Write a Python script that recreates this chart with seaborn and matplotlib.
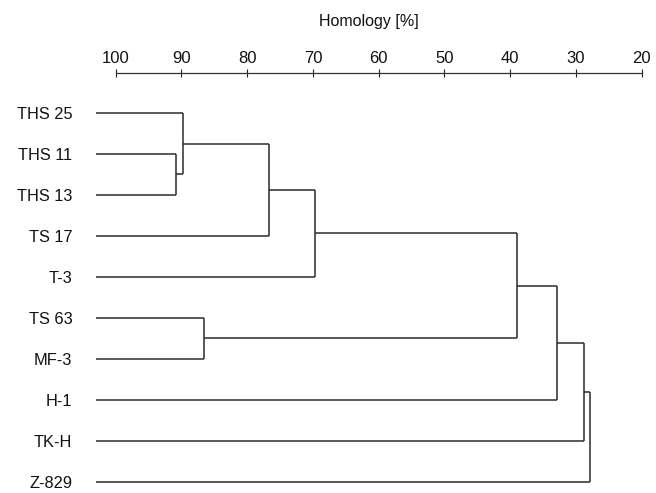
import matplotlib
matplotlib.use("Agg")
import matplotlib.pyplot as plt
import seaborn as sns

# leaf labels, top to bottom
leaves = ["THS 25", "THS 11", "THS 13", "TS 17", "T-3",
          "TS 63", "MF-3", "H-1", "TK-H", "Z-829"]

# merges: node ids 0-9 are leaves, merge k creates node 10 + k
merge_left = [1, 0, 11, 12, 5, 13, 15, 16, 17]
merge_right = [2, 10, 3, 4, 6, 14, 7, 8, 9]
merge_height = [90.85, 89.8, 76.7, 69.7, 86.6, 39.0, 32.9, 28.8, 27.8]

leaf_start = 103.0
ticks = [100, 90, 80, 70, 60, 50, 40, 30, 20]

sns.set_style("white")
plt.rcParams['font.family'] = ['Liberation Sans', 'DejaVu Sans']

fig = plt.figure(figsize=(6.56, 4.93), dpi=100)
ax = fig.add_axes([96 / 656, 0, (641.7 - 96) / 656, 420 / 493])

# positions of each node (x = homology, y = row)
node_x = {i: leaf_start for i in range(len(leaves))}
node_y = {i: float(i) for i in range(len(leaves))}

line_kw = dict(color="#2b2b2b", lw=1.1, solid_capstyle="butt")
for k, (a, b, h) in enumerate(zip(merge_left, merge_right, merge_height)):
    for c in (a, b):
        ax.plot([node_x[c], h], [node_y[c], node_y[c]], **line_kw)
    ax.plot([h, h], [node_y[a], node_y[b]], **line_kw)
    node_x[10 + k] = h
    node_y[10 + k] = (node_y[a] + node_y[b]) / 2

ax.set_xlim(leaf_start, 20)
ax.set_ylim(9.275, -0.976)

ax.xaxis.tick_top()
ax.xaxis.set_label_position("top")
ax.set_xticks(ticks)
ax.set_xticklabels([str(t) for t in ticks])
ax.set_xlabel("Homology [%]", fontsize=11.5, labelpad=18, color="#111111")
ax.tick_params(axis="x", which="both", direction="inout", length=6, width=0.8,
               colors="#222222", labelsize=12, pad=2, top=True, bottom=False)
for lab in ax.get_xticklabels():
    lab.set_color("#111111")

ax.set_yticks(range(len(leaves)))
ax.set_yticklabels(leaves)
ax.tick_params(axis="y", length=0, labelsize=11.8, pad=17, colors="#111111")

for side in ["left", "right", "bottom"]:
    ax.spines[side].set_visible(False)
ax.spines["top"].set_bounds(20, 100)
ax.spines["top"].set_color("#333333")
ax.spines["top"].set_linewidth(0.9)

fig.savefig("out.png", dpi=100)
